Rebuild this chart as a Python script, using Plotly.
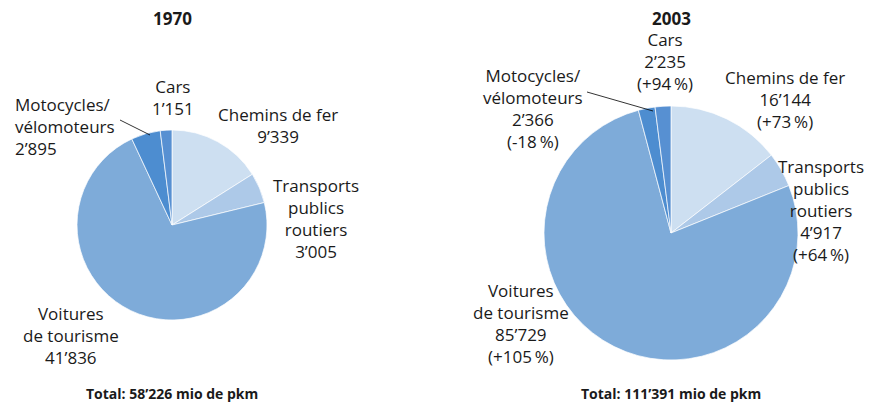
import plotly.graph_objects as go

# The page body has an 8px margin: figure drawn 8px in from the window corner.
OFF = 8
W, H = 877 - OFF, 403 - OFF

categories = ["Chemins de fer", "Transports publics routiers", "Voitures de tourisme",
              "Motocycles/vélomoteurs", "Cars"]
values_1970 = [9339, 3005, 41836, 2895, 1151]
values_2003 = [16144, 4917, 85729, 2366, 2235]
changes_2003 = ["+73", "+64", "+105", "-18", "+94"]
colors = ["#cddff1", "#adc9e8", "#7eabd9", "#4d8dd0", "#5790d2"]

FONT = "Open Sans"


def fmt(v):
    return f"{v:,}".replace(",", "\u2019")


def px(x):
    return (x - OFF) / W


def py(y):
    return 1 - (y - OFF) / H


def pdom(cx, cy, r):
    return dict(x=[px(cx - r), px(cx + r)], y=[py(cy + r), py(cy - r)])


fig = go.Figure()
fig.add_trace(go.Pie(values=values_1970, labels=categories, sort=False, direction="clockwise",
                     rotation=0, textinfo="none",
                     marker=dict(colors=colors, line=dict(color="white", width=0.7)),
                     domain=pdom(172, 225, 95), showlegend=False))
fig.add_trace(go.Pie(values=values_2003, labels=categories, sort=False, direction="clockwise",
                     rotation=0, textinfo="none",
                     marker=dict(colors=colors, line=dict(color="white", width=0.7)),
                     domain=pdom(671, 233, 127), showlegend=False))

ann = []


def add(text, x, y, size=17, bold=False, xanchor="center", align="center"):
    if bold:
        text = "<b>" + text + "</b>"
    ann.append(dict(text=text, x=px(x), y=py(y), xref="paper", yref="paper", showarrow=False,
                    xanchor=xanchor, yanchor="middle", align=align,
                    font=dict(family=FONT, size=size, color="#1a1a1a")))


pc = lambda c: "(" + c + "\u2009%)"

# 1970 labels
add("1970", 172, 18, size=17, bold=True)
add("Cars<br>" + fmt(values_1970[4]), 173, 97.5)
add("Chemins de fer<br>" + fmt(values_1970[0]), 278, 125)
add("Transports<br>publics<br>routiers<br>" + fmt(values_1970[1]), 316, 218.5)
add("Motocycles/<br>vélomoteurs<br>" + fmt(values_1970[3]), 13, 126, xanchor="left", align="left")
add("Voitures<br>de tourisme<br>" + fmt(values_1970[2]), 71, 335.5)
add("Total: " + fmt(sum(values_1970)) + " mio de pkm", 172, 393, size=14, bold=True)

# 2003 labels
add("2003", 671, 18, size=17, bold=True)
add("Cars<br>" + fmt(values_2003[4]) + "<br>" + pc(changes_2003[4]), 665, 61)
add("Chemins de fer<br>" + fmt(values_2003[0]) + "<br>" + pc(changes_2003[0]), 785, 99)
add("Transports<br>publics<br>routiers<br>" + fmt(values_2003[1]) + "<br>" + pc(changes_2003[1]),
    866, 210.5, xanchor="right")
add("Motocycles/<br>vélomoteurs<br>" + fmt(values_2003[3]) + "<br>" + pc(changes_2003[3]), 533, 108)
add("Voitures<br>de tourisme<br>" + fmt(values_2003[2]) + "<br>" + pc(changes_2003[2]), 521, 323.5)
add("Total: " + fmt(sum(values_2003)) + " mio de pkm", 671, 393, size=14, bold=True)

shapes = [
    dict(type="line", xref="paper", yref="paper", x0=px(120), y0=py(120), x1=px(150), y1=py(135),
         line=dict(color="black", width=0.8)),
    dict(type="line", xref="paper", yref="paper", x0=px(587), y0=py(92), x1=px(653), y1=py(111),
         line=dict(color="black", width=0.8)),
]

fig.update_layout(width=W, height=H, margin=dict(l=0, r=0, t=0, b=0), paper_bgcolor="white",
                  plot_bgcolor="white", annotations=ann, shapes=shapes, showlegend=False)

fig.write_html("out.html")
